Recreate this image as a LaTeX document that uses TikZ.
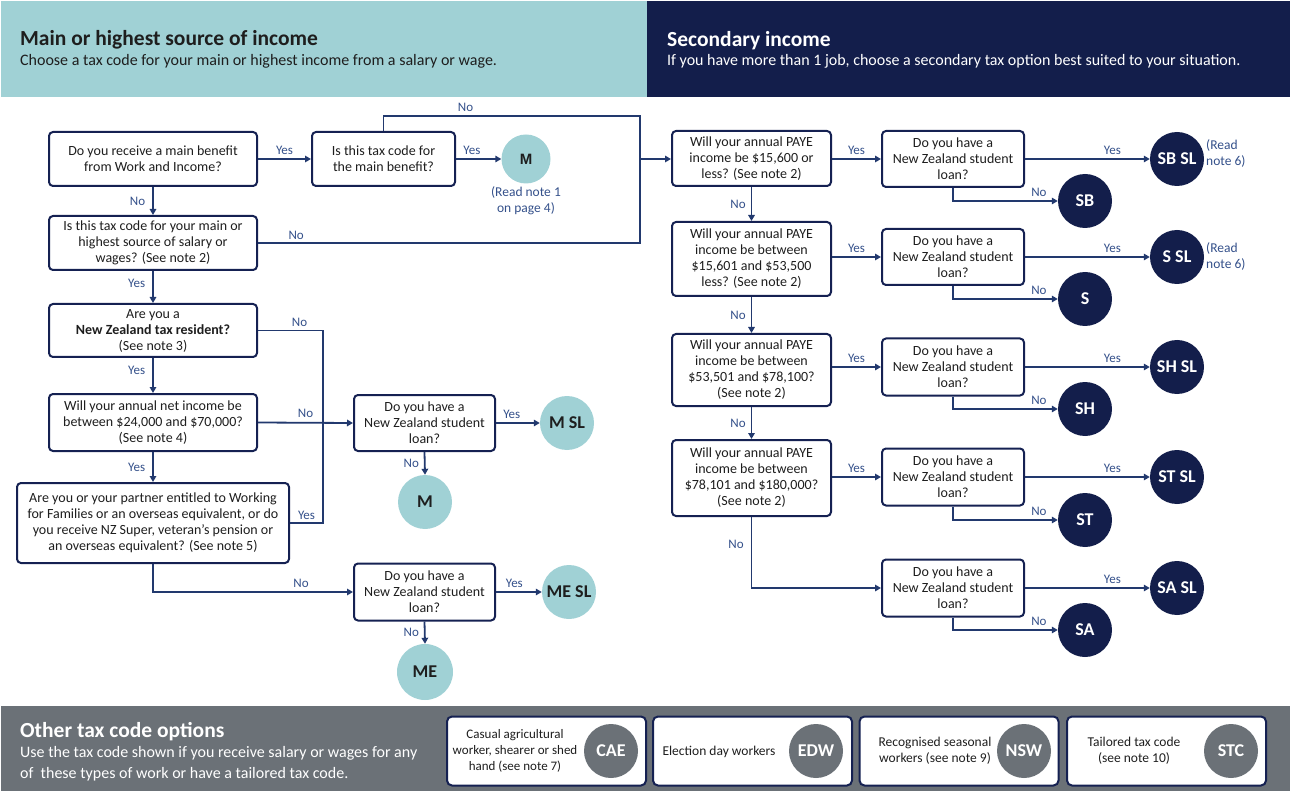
\documentclass[tikz,border=0pt]{standalone}
\usepackage{fontspec}
\setmainfont{Carlito}
\newfontfamily\arialf{Liberation Sans}
\usetikzlibrary{arrows.meta}
\definecolor{tealb}{HTML}{A0D1D5}
\definecolor{navyb}{HTML}{131E4B}
\definecolor{greyb}{HTML}{6B7177}
\definecolor{linec}{HTML}{22396E}
\definecolor{lblc}{HTML}{34508A}
\definecolor{boxc}{HTML}{152152}
\definecolor{txtc}{HTML}{1E1E1E}
\begin{document}
\begin{tikzpicture}[x=1pt,y=-1pt,
  qbox/.style={draw=boxc, line width=2pt, rounded corners=4pt, fill=white, align=center,
    text=txtc, font=\fontsize{14}{16}\selectfont, inner sep=2pt},
  obox/.style={draw=boxc, line width=2pt, rounded corners=5pt, fill=white,
    minimum width=199, minimum height=69},
  otxt/.style={align=center, text=txtc, font=\fontsize{13.5}{16}\selectfont, inner sep=0pt},
  conn/.style={draw=linec, line width=1.8pt},
  arr/.style={conn, -{Triangle[length=6pt,width=6.5pt]}},
  lbl/.style={font=\fontsize{13}{14}\selectfont, text=lblc, inner sep=1pt},
  note/.style={font=\fontsize{13.5}{16}\selectfont, text=lblc, align=center, inner sep=0pt},
  tcirc/.style={circle, fill=tealb, minimum size=54, inner sep=0pt, text=txtc,
    font=\fontsize{18}{18}\bfseries\selectfont},
  ncirc/.style={circle, fill=navyb, minimum size=54, inner sep=0pt, text=white,
    font=\fontsize{18}{18}\bfseries\selectfont},
  gcirc/.style={circle, fill=greyb, minimum size=54, inner sep=0pt, text=white,
    font=\fontsize{18}{18}\bfseries\selectfont},
  ttl/.style={anchor=base west, font=\fontsize{21.5}{24}\bfseries\selectfont, inner sep=0pt},
  sub/.style={anchor=base west, font=\fontsize{16}{21}\selectfont, inner sep=0pt}
]
\useasboundingbox (0,0) rectangle (1290,791);
% bands
\fill[tealb] (1,1) rectangle (647,97);
\fill[navyb] (647,1) rectangle (1290,97);
\fill[greyb] (1,706) rectangle (1290,791);
\node[ttl, text=txtc] (t1) at (20,46) {Main or highest source of income};
\node[sub, text=txtc] (s1) at (20,66) {Choose a tax code for your main or highest income from a salary or wage.};
\node[ttl, text=white] (t2) at (667,47) {Secondary income};
\node[sub, text=white] (s2) at (667,66) {If you have more than 1 job, choose a secondary tax option best suited to your situation.};
\node[ttl, text=white] (t3) at (20,737) {Other tax code options};
\node[sub, text=white] (s3a) at (20,757) {Use the tax code shown if you receive salary or wages for any};
\node[sub, text=white] (s3b) at (20,778) {of\ \ these types of work or have a tailored tax code.};

% left flow
\node[qbox, minimum width=208, minimum height=54] (A) at (153,159) {Do you receive a main benefit\\from Work and Income?};
\node[qbox, minimum width=143, minimum height=54] (B) at (383.5,159) {Is this tax code for\\the main benefit?};
\node[circle, fill=tealb, minimum size=49, inner sep=0pt, text=txtc, font=\arialf\fontsize{15}{15}\bfseries\selectfont] (M1) at (526,159) {M};
\node[note, anchor=north] (n1) at (526,186) {(Read note 1\\on page 4)};
\node[qbox, minimum width=208, minimum height=54] (C) at (153,243) {Is this tax code for your main or\\highest source of salary or\\wages? (See note 2)};
\node[qbox, minimum width=208, minimum height=53] (D) at (153,330.5) {Are you a\\\textbf{New Zealand tax resident?}\\(See note 3)};
\node[qbox, minimum width=208, minimum height=57] (E) at (153,422.5) {Will your annual net income be\\between \$24,000 and \$70,000?\\(See note 4)};
\node[qbox, minimum width=272, minimum height=80] (F) at (153,523) {Are you or your partner entitled to Working\\for Families or an overseas equivalent, or do\\you receive NZ Super, veteran’s pension or\\an overseas equivalent? (See note 5)};
\node[qbox, minimum width=141, minimum height=56] (G) at (424.5,423) {Do you have a\\New Zealand student\\loan?};
\node[tcirc] (MSL) at (567,423) {M SL};
\node[tcirc] (M2) at (425,502) {M};
\node[qbox, minimum width=141, minimum height=57] (H) at (424.5,592) {Do you have a\\New Zealand student\\loan?};
\node[tcirc] (MESL) at (569,592) {ME SL};
\node[tcirc, minimum size=56] (ME) at (425,672) {ME};

\coordinate (jt) at (640,116);
\coordinate (jm) at (640,159);
\coordinate (jb) at (640,243);
\coordinate (k) at (323,423);

\draw[arr] (A.east) -- node[lbl, above=3pt] (lb1) {Yes} (B.west);
\draw[arr] (B.east) -- node[lbl, above=3pt, pos=0.35] (lb2) {Yes} (M1.west);
\draw[conn] (B.north) |- node[lbl, above=3pt, pos=0.66] (lb3) {No} (jt) -- (jm);
\draw[conn] (C.east) -- node[lbl, above=2pt, pos=0.1] (lb4) {No} (jb) -- (jm);
\draw[arr] (A.south) -- node[lbl, left=6pt] (lb5) {No} (C.north);
\draw[arr] (C.south) -- node[lbl, left=6pt, pos=0.4] (lb6) {Yes} (D.north);
\draw[arr] (D.south) -- node[lbl, left=6pt, pos=0.35] (lb7) {Yes} (E.north);
\draw[arr] (E.south) -- node[lbl, left=6pt] (lb8) {Yes} (F.north);
\draw[conn] (D.east) -| node[lbl, above=2pt, pos=0.32] (lb9) {No} (k);
\draw[conn] (F.east) -| node[lbl, above=2pt, pos=0.25] (lb10) {Yes} (k);
\draw[arr] (E.east) -- node[lbl, above=3pt] (lb11) {No} (G.west);
\draw[arr] (G.east) -- node[lbl, above=3pt, pos=0.36] (lb12) {Yes} (MSL.west);
\draw[arr] (G.south) -- node[lbl, left=4pt] (lb13) {No} (M2.north);
\draw[arr] (F.south) |- node[lbl, above=3pt, pos=0.87] (lb14) {No} (H.west);
\draw[arr] (H.east) -- node[lbl, above=3pt, pos=0.4] (lb15) {Yes} (MESL.west);
\draw[arr] (H.south) -- node[lbl, left=4pt] (lb16) {No} (ME.north);

% right flow
\node[qbox, minimum width=159, minimum height=55] (R1) at (751.5,158.5) {Will your annual PAYE\\income be \$15,600 or\\less? (See note 2)};
\node[qbox, minimum width=159, minimum height=74] (R2) at (751.5,259) {Will your annual PAYE\\income be between\\\$15,601 and \$53,500\\less? (See note 2)};
\node[qbox, minimum width=159, minimum height=72] (R3) at (751.5,370) {Will your annual PAYE\\income be between\\\$53,501 and \$78,100?\\(See note 2)};
\node[qbox, minimum width=159, minimum height=76] (R4) at (751.5,478) {Will your annual PAYE\\income be between\\\$78,101 and \$180,000?\\(See note 2)};

\node[qbox, minimum width=142, minimum height=56] (L1) at (953,159) {Do you have a\\New Zealand student\\loan?};
\node[qbox, minimum width=142, minimum height=56] (L2) at (953,257) {Do you have a\\New Zealand student\\loan?};
\node[qbox, minimum width=142, minimum height=57] (L3) at (953,367) {Do you have a\\New Zealand student\\loan?};
\node[qbox, minimum width=142, minimum height=57] (L4) at (953,477) {Do you have a\\New Zealand student\\loan?};
\node[qbox, minimum width=142, minimum height=57] (L5) at (953,588) {Do you have a\\New Zealand student\\loan?};

\node[ncirc] (SBSL) at (1177,159) {SB SL};
\node[ncirc] (SSL) at (1177,257) {S SL};
\node[ncirc] (SHSL) at (1177,367) {SH SL};
\node[ncirc] (STSL) at (1177,477) {ST SL};
\node[ncirc] (SASL) at (1177,588) {SA SL};
\node[ncirc] (SB) at (1085,201) {SB};
\node[ncirc] (S) at (1085,299) {S};
\node[ncirc] (SH) at (1085,409) {SH};
\node[ncirc] (ST) at (1085,520) {ST};
\node[ncirc] (SA) at (1085,630) {SA};
\node[note, align=left, anchor=west] (n6a) at (1206,154) {(Read\\note 6)};
\node[note, align=left, anchor=west] (n6b) at (1206,257) {(Read\\note 6)};

\draw[arr] (jm) -- (R1.west |- jm);
\draw[arr] (L1.west -| R1.east) -- node[lbl, above=3pt] (r1) {Yes} (L1.west);
\draw[arr] (L2.west -| R2.east) -- node[lbl, above=3pt] (r2) {Yes} (L2.west);
\draw[arr] (L3.west -| R3.east) -- node[lbl, above=3pt] (r3) {Yes} (L3.west);
\draw[arr] (L4.west -| R4.east) -- node[lbl, above=3pt] (r4) {Yes} (L4.west);
\draw[arr] (R1.south) -- node[lbl, left=4pt] (r5) {No} (R2.north);
\draw[arr] (R2.south) -- node[lbl, left=4pt] (r6) {No} (R3.north);
\draw[arr] (R3.south) -- node[lbl, left=4pt] (r7) {No} (R4.north);
\draw[arr] (R4.south) |- node[lbl, left=6pt, pos=0.19] (r8) {No} (L5.west);

\foreach \l/\y/\n in {L1/SBSL/SB, L2/SSL/S, L3/SHSL/SH, L4/STSL/ST, L5/SASL/SA}{
  \draw[arr] (\l.east) -- node[lbl, above=3pt, pos=0.7] {Yes} (\y.west);
  \draw[arr] (\l.south) |- node[lbl, above=3pt, pos=0.91] {No} (\n.west);
}

% other options
\node[obox] (O1) at (546.5,751) {};
\node[otxt, font=\fontsize{13}{16}\selectfont] (O1t) at (515,751) {Casual agricultural\\worker, shearer or shed\\hand (see note 7)};
\node[gcirc] (CAE) at (611,751) {CAE};
\node[obox] (O2) at (752.5,751) {};
\node[otxt] (O2t) at (719,752) {Election day workers};
\node[gcirc] (EDW) at (816,751) {EDW};
\node[obox] (O3) at (959,751) {};
\node[otxt] (O3t) at (935,751) {Recognised seasonal\\workers (see note 9)};
\node[gcirc] (NSW) at (1024,751) {NSW};
\node[obox] (O4) at (1166.5,751) {};
\node[otxt] (O4t) at (1134,751) {Tailored tax code\\(see note 10)};
\node[gcirc] (STC) at (1231,751) {STC};
\end{tikzpicture}
\end{document}
